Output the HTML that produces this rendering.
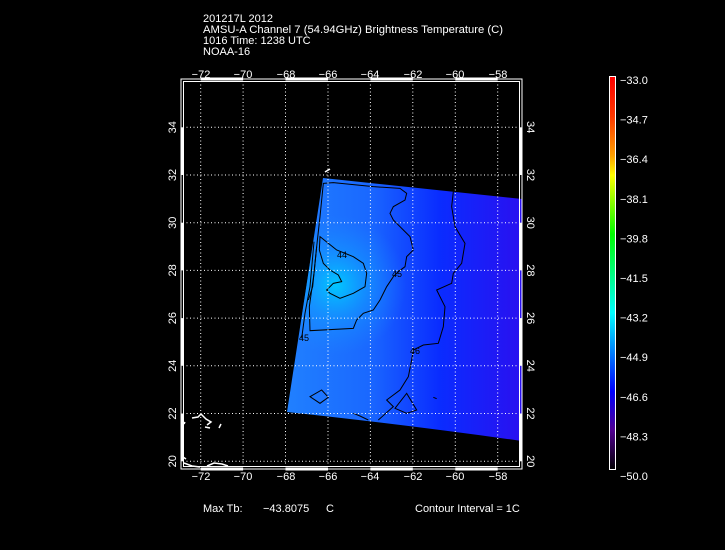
<!DOCTYPE html>
<html><head><style>
html,body{margin:0;padding:0;background:#000;width:725px;height:550px;overflow:hidden}
svg text{font-family:"Liberation Sans",sans-serif;fill:#fff}
</style></head><body>
<svg width="725" height="550" viewBox="0 0 725 550" xmlns="http://www.w3.org/2000/svg">
<defs>
<linearGradient id="sw" x1="287" y1="0" x2="522" y2="0" gradientUnits="userSpaceOnUse">
<stop offset="0" stop-color="#2080ff"/>
<stop offset="0.35" stop-color="#1a68ff"/>
<stop offset="0.65" stop-color="#0a2cff"/>
<stop offset="1" stop-color="#2a10f0"/>
</linearGradient>
<radialGradient id="hot" cx="336" cy="285" r="70" gradientUnits="userSpaceOnUse">
<stop offset="0" stop-color="#00c8ff" stop-opacity="1"/>
<stop offset="0.5" stop-color="#10a0ff" stop-opacity="0.5"/>
<stop offset="1" stop-color="#1a8cff" stop-opacity="0"/>
</radialGradient>
<linearGradient id="cb" x1="0" y1="77" x2="0" y2="470" gradientUnits="userSpaceOnUse">
<stop offset="0" stop-color="#ff0000"/>
<stop offset="0.1" stop-color="#ff3800"/>
<stop offset="0.2" stop-color="#ffa000"/>
<stop offset="0.25" stop-color="#ffff00"/>
<stop offset="0.4" stop-color="#00ff00"/>
<stop offset="0.5" stop-color="#00ff80"/>
<stop offset="0.6" stop-color="#00ffff"/>
<stop offset="0.7" stop-color="#0080ff"/>
<stop offset="0.8" stop-color="#0000ff"/>
<stop offset="0.9" stop-color="#500090"/>
<stop offset="1" stop-color="#000000"/>
</linearGradient>
</defs>

<g font-size="11">
<text x="203" y="22">201217L 2012</text>
<text x="203" y="33" textLength="300" lengthAdjust="spacingAndGlyphs">AMSU-A Channel 7 (54.94GHz) Brightness Temperature (C)</text>
<text x="203" y="44">1016 Time: 1238 UTC</text>
<text x="203" y="55">NOAA-16</text>
</g>

<path d="M323,178 L522,199 L522,441 Q400,424 287,412 Z" fill="url(#sw)"/>
<path d="M323,178 L522,199 L522,441 Q400,424 287,412 Z" fill="url(#hot)"/>

<g transform="translate(160,60) scale(0.33333)" fill="none" stroke="#000" stroke-width="3">
<path d="M490,370 L520,368 L640,380 L720,385 L740,400 L735,420 L700,440 L690,460 L700,480 L730,510 L750,530 L760,570 L740,590 L735,620 L715,635 L700,650 L680,680 L660,720 L640,750 L610,760 L590,780 L580,805 L450,812 L448,740 L455,690 L462,640 L470,560 L480,470 L485,420 Z"/>
<path d="M480,530 L530,570 L580,590 L610,610 L620,640 L615,680 L580,700 L540,715 L510,700 L500,690 L520,670 L545,665 L535,645 L510,630 L490,610 L478,570 Z"/>
<path d="M462,545 L450,680 L435,760 L425,835"/>
<path d="M470,560 L458,680 L445,720"/>
<path d="M880,395 L875,440 L885,500 L915,550 L905,610 L880,640 L875,670 L830,690 L855,740 L850,800 L835,850 L790,855 L760,870 L755,900 L745,950 L720,990 L680,1020 L700,1040 L655,1080"/>
<path d="M740,1000 L770,1050 L740,1060 L705,1045 Z"/>
<path d="M450,1010 L485,990 L505,1012 L480,1030 Z"/>
<path d="M580,1060 L600,1068 L625,1080"/>
<path d="M820,1012 L830,1016"/>
</g>
<g font-size="9">
<text x="337" y="258" style="fill:#000">44</text>
<text x="392" y="277" style="fill:#000">45</text>
<text x="299" y="341" style="fill:#000">45</text>
<text x="410" y="354" style="fill:#000">46</text>
</g>

<g stroke="#fff" stroke-width="1.5" fill="none">
<path d="M325,172 L330,169"/>
<path d="M192,418 L198,417 L201,414 L206,419 L211,422 L207,425"/>
<path d="M205,427 L210,428"/>
<path d="M219,428 L221,424"/>
<path d="M183,457 L186,459"/>
<path d="M184,463 L192,466 L200,467"/>
<path d="M207,466 L214,463 L222,464 L228,466"/>
<path d="M184,424 L185,422"/>
</g>

<g stroke="#fff" stroke-width="1" stroke-dasharray="1,2.5">
<line x1="200.7" y1="81" x2="200.7" y2="466"/>
<line x1="243.1" y1="81" x2="243.1" y2="466"/>
<line x1="285.5" y1="81" x2="285.5" y2="466"/>
<line x1="328" y1="81" x2="328" y2="466"/>
<line x1="370.4" y1="81" x2="370.4" y2="466"/>
<line x1="412.8" y1="81" x2="412.8" y2="466"/>
<line x1="455.3" y1="81" x2="455.3" y2="466"/>
<line x1="497.7" y1="81" x2="497.7" y2="466"/>
<line x1="183" y1="127.3" x2="519" y2="127.3"/>
<line x1="183" y1="175" x2="519" y2="175"/>
<line x1="183" y1="222.7" x2="519" y2="222.7"/>
<line x1="183" y1="270.4" x2="519" y2="270.4"/>
<line x1="183" y1="318.1" x2="519" y2="318.1"/>
<line x1="183" y1="365.8" x2="519" y2="365.8"/>
<line x1="183" y1="413.5" x2="519" y2="413.5"/>
<line x1="183" y1="461.3" x2="519" y2="461.3"/>
</g>

<rect x="181" y="79" width="341" height="390" fill="none" stroke="#fff" stroke-width="1"/>
<rect x="183.5" y="81.5" width="336" height="385" fill="none" stroke="#fff" stroke-width="1"/>
<g stroke="#fff" stroke-width="3">
<line x1="200.7" y1="79" x2="243.1" y2="79"/><line x1="285.5" y1="79" x2="328" y2="79"/><line x1="370.4" y1="79" x2="412.8" y2="79"/><line x1="455.3" y1="79" x2="497.7" y2="79"/>
<line x1="200.7" y1="469" x2="243.1" y2="469"/><line x1="285.5" y1="469" x2="328" y2="469"/><line x1="370.4" y1="469" x2="412.8" y2="469"/><line x1="455.3" y1="469" x2="497.7" y2="469"/>
<line x1="182" y1="127.3" x2="182" y2="175"/><line x1="182" y1="222.7" x2="182" y2="270.4"/><line x1="182" y1="318.1" x2="182" y2="365.8"/><line x1="182" y1="413.5" x2="182" y2="461.3"/>
<line x1="521" y1="127.3" x2="521" y2="175"/><line x1="521" y1="222.7" x2="521" y2="270.4"/><line x1="521" y1="318.1" x2="521" y2="365.8"/><line x1="521" y1="413.5" x2="521" y2="461.3"/>
</g>

<g font-size="11" text-anchor="middle">
<text x="201" y="78">−72</text><text x="243" y="78">−70</text><text x="286" y="78">−68</text><text x="328" y="78">−66</text><text x="370" y="78">−64</text><text x="413" y="78">−62</text><text x="455" y="78">−60</text><text x="498" y="78">−58</text>
<text x="201" y="480">−72</text><text x="243" y="480">−70</text><text x="286" y="480">−68</text><text x="328" y="480">−66</text><text x="370" y="480">−64</text><text x="413" y="480">−62</text><text x="455" y="480">−60</text><text x="498" y="480">−58</text>
</g>
<g font-size="11" text-anchor="middle">
<text transform="translate(176,127.3) rotate(-90)">34</text>
<text transform="translate(176,175) rotate(-90)">32</text>
<text transform="translate(176,222.7) rotate(-90)">30</text>
<text transform="translate(176,270.4) rotate(-90)">28</text>
<text transform="translate(176,318.1) rotate(-90)">26</text>
<text transform="translate(176,365.8) rotate(-90)">24</text>
<text transform="translate(176,413.5) rotate(-90)">22</text>
<text transform="translate(176,461.3) rotate(-90)">20</text>
<text transform="translate(527,127.3) rotate(90)">34</text>
<text transform="translate(527,175) rotate(90)">32</text>
<text transform="translate(527,222.7) rotate(90)">30</text>
<text transform="translate(527,270.4) rotate(90)">28</text>
<text transform="translate(527,318.1) rotate(90)">26</text>
<text transform="translate(527,365.8) rotate(90)">24</text>
<text transform="translate(527,413.5) rotate(90)">22</text>
<text transform="translate(527,461.3) rotate(90)">20</text>
</g>

<rect x="609.5" y="76.5" width="6" height="393" fill="url(#cb)" stroke="#fff" stroke-width="1"/>
<g font-size="11">
<text x="620" y="84">−33.0</text>
<text x="620" y="123.6">−34.7</text>
<text x="620" y="163.2">−36.4</text>
<text x="620" y="202.8">−38.1</text>
<text x="620" y="242.4">−39.8</text>
<text x="620" y="282">−41.5</text>
<text x="620" y="321.6">−43.2</text>
<text x="620" y="361.2">−44.9</text>
<text x="620" y="400.8">−46.6</text>
<text x="620" y="440.4">−48.3</text>
<text x="620" y="480">−50.0</text>
</g>

<g font-size="11">
<text x="203" y="512">Max Tb:</text>
<text x="263" y="512">−43.8075</text>
<text x="326" y="512">C</text>
<text x="415" y="512">Contour Interval = 1C</text>
</g>
</svg>
</body></html>
